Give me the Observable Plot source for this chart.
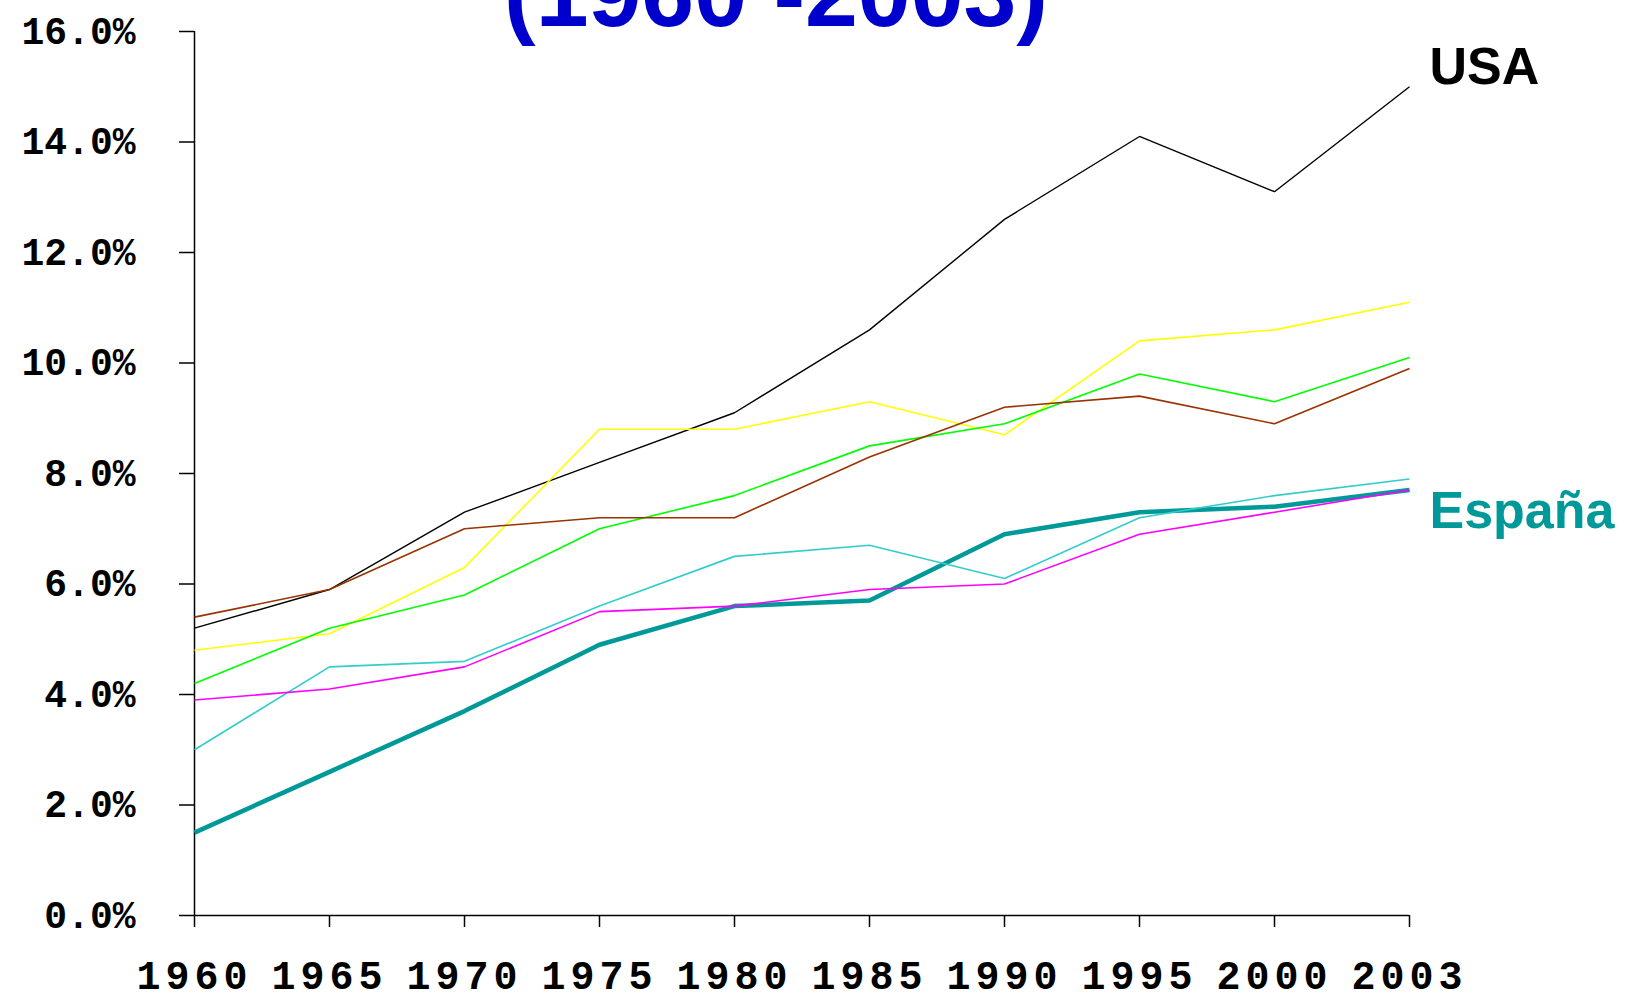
<!DOCTYPE html>
<html><head><meta charset="utf-8">
<script src="https://cdn.jsdelivr.net/npm/d3@7"></script>
<script src="https://cdn.jsdelivr.net/npm/@observablehq/plot@0.6"></script>
<style>
html,body{margin:0;padding:0;background:#fff;}
#chart svg{display:block;}
g[aria-label="x-axis tick label"] text{letter-spacing:5px;}
</style></head><body><div id="chart"></div>
<script>
const years = ["1960","1965","1970","1975","1980","1985","1990","1995","2000","2003"];
const usa     = [5.2, 5.9, 7.3, 8.2, 9.1, 10.6, 12.6, 14.1, 13.1, 15.0];
const yellowS = [4.8, 5.1, 6.3, 8.8, 8.8, 9.3, 8.7, 10.4, 10.6, 11.1];
const greenS  = [4.2, 5.2, 5.8, 7.0, 7.6, 8.5, 8.9, 9.8, 9.3, 10.1];
const brownS  = [5.4, 5.9, 7.0, 7.2, 7.2, 8.3, 9.2, 9.4, 8.9, 9.9];
const cyanS   = [3.0, 4.5, 4.6, 5.6, 6.5, 6.7, 6.1, 7.2, 7.6, 7.9];
const magentaS= [3.9, 4.1, 4.5, 5.5, 5.6, 5.9, 6.0, 6.9, 7.3, 7.7];
const espana  = [1.5, 2.6, 3.7, 4.9, 5.6, 5.7, 6.9, 7.3, 7.4, 7.7];

const seriesNames  = ["España","USA","Serie 3","Serie 4","Serie 5","Serie 6","Serie 7"];
const seriesValues = [espana, usa, yellowS, greenS, brownS, cyanS, magentaS];
const seriesColors = ["#009999","#000000","#ffff00","#00ff00","#993300","#33cccc","#ff00ff"];
const seriesWidths = [4.5, 1.4, 1.6, 1.6, 1.6, 1.6, 1.6];

const yTicks = [0,2,4,6,8,10,12,14,16];
const titleText = ["(1960 -2003)"];
const endLabels = ["USA","España"];
const endLabelColors = ["#000000","#009999"];
const endLabelValues = [usa[usa.length-1], espana[espana.length-1]];
const endLabelDy = [-3, 38];

const rows = [];
seriesNames.forEach((s, i) => years.forEach((y, j) => rows.push({series: s, year: y, value: seriesValues[i][j]})));

const labelRows = endLabels.map((t, i) => ({text: t, year: years[years.length-1], value: endLabelValues[i], color: endLabelColors[i], dy: endLabelDy[i]}));

const marks = [];
marks.push(Plot.ruleY([0], {stroke: "#000", strokeWidth: 1.5}));
marks.push(Plot.ruleX([years[0]], {y1: 0, y2: 16, stroke: "#000", strokeWidth: 1.5}));
marks.push(Plot.axisY({ticks: yTicks, tickFormat: d => d.toFixed(1) + "%", tickSize: 15, tickPadding: 44, fontSize: 38, fontWeight: "bold", fontFamily: "Liberation Mono, DejaVu Sans Mono, monospace", fill: "#000", stroke: "#000", strokeWidth: 1.5, label: null}));
marks.push(Plot.axisX({tickSize: 12, tickPadding: 33, fontSize: 40, fontWeight: "bold", fontFamily: "Liberation Mono, DejaVu Sans Mono, monospace", fill: "#000", stroke: "#000", strokeWidth: 1.5, label: null}));
seriesNames.forEach((s, i) => {
  marks.push(Plot.line(rows.filter(r => r.series === s), {x: "year", y: "value", stroke: seriesColors[i], strokeWidth: seriesWidths[i], strokeLinejoin: "miter", strokeLinecap: "butt"}));
});
labelRows.forEach(l => {
  marks.push(Plot.text([l], {x: "year", y: "value", text: "text", fill: l.color, textAnchor: "start", lineAnchor: "bottom", dx: 20, dy: l.dy, fontSize: 52, fontWeight: "bold", fontFamily: "Liberation Sans, Arial, sans-serif"}));
});
marks.push(Plot.text(titleText, {frameAnchor: "top", text: d => d, lineAnchor: "bottom", dx: -26, dy: -6, fontSize: 95, fontWeight: "bold", fill: "#0000cc", fontFamily: "Liberation Sans, Arial, sans-serif"}));

const chart = Plot.plot({
  width: 1630,
  height: 995,
  marginLeft: 194,
  marginRight: 221,
  marginTop: 31,
  marginBottom: 80,
  style: {background: "#fff", overflow: "visible"},
  x: {type: "point", domain: years, padding: 0},
  y: {domain: [0, 16]},
  marks
});
document.getElementById("chart").appendChild(chart);
</script></body></html>
